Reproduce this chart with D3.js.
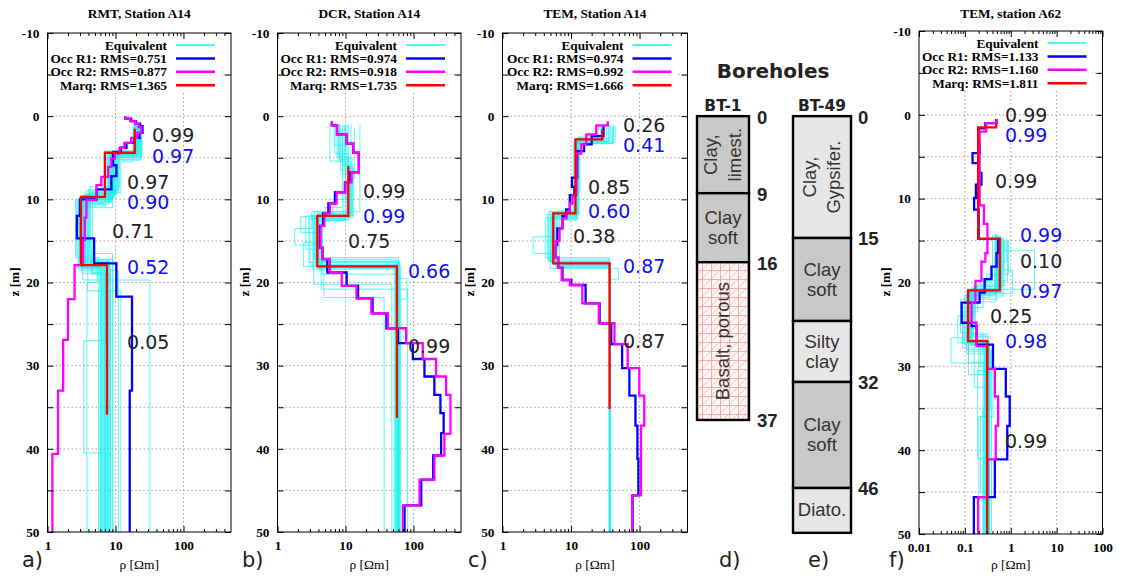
<!DOCTYPE html>
<html>
<head>
<meta charset="utf-8">
<script src="https://cdn.jsdelivr.net/npm/d3@7"></script>
<style>
  body { margin: 0; background: #fff; }
  svg { display: block; }
</style>
</head>
<body>
<script>
// ---- data: layered models, each layer is [top depth z (m), resistivity (ohm m)] ----

const legendNames = ['Equivalent', 'Occ R1', 'Occ R2', 'Marq'];

// a) RMT, station A14
const rmtRms = ['0.751', '0.877', '1.365'];
const rmtOccR1 = [[0,14],[0.3,17],[0.6,20],[0.9,23],[1.2,25],[2.0,22.5],[2.6,19],[3.2,14.5],[3.8,12],[4.3,9.2],[5.9,10.3],[7.2,8.7],[8.8,5.3],[10.0,3.0],[12.0,2.7],[14.7,4.85],[17.7,10.3],[21.7,17.5],[33,16.2]];
const rmtOccR2 = [[0,14],[0.3,16.5],[0.6,19.5],[0.9,22],[1.3,24],[2.0,21],[2.6,17],[3.2,13.5],[3.8,11.5],[4.5,9.8],[5.1,8.7],[6.1,7.8],[7.3,6.2],[8.3,5.25],[10.1,3.74],[12.2,3.53],[14.9,3.34],[17.9,2.5],[22,2.0],[26.9,1.7],[33,1.43],[40.6,1.18]];
const rmtMarq = [[1.5,19.2],[4.4,7.0],[9.7,3.1],[17.9,7.5]];
const rmtMarqEnd = 35.9;
const rmtEquiv = [
  [[1.2,20],[4.5,9.0],[9.5,3.2],[18,7.0]],
  [[1.0,22],[4.3,10.5],[9.0,3.6],[17.5,8.0]],
  [[1.3,19],[4.8,8.2],[10.2,2.8],[18.2,6.5]],
  [[1.0,24],[5.0,11.5],[8.5,4.2],[16.5,9.0]],
  [[1.1,21],[4.6,7.6],[10.0,3.0],[18,7.2],[27,3.4],[40.5,7.2]],
  [[1.2,20],[4.4,9.5],[9.8,3.3],[19.7,32]],
  [[1.0,23],[4.5,8.6],[10.0,2.6],[17,5.6]],
  [[1.4,18],[5.5,12],[9.2,4.6],[18.5,11]],
  [[1.0,19],[4.2,6.8],[10.5,3.6],[18,6.0]],
  [[1.2,22],[4.7,9.0],[11.0,2.9],[15,4.4],[19,8.5]],
  [[1.0,21],[4.5,10.2],[9.5,3.9],[21,12]],
  [[1.1,20],[4.9,8.0],[10.0,3.3],[17.8,5.4],[20,3.8]],
  [[1.3,23],[5.2,9.8],[9.6,3.4],[18.3,6.8]],
  [[1.0,20],[4.6,8.8],[10.3,3.1],[17.6,7.8]],
  [[1.0,21],[4.4,9.4],[9.9,3.4],[18.1,6.2]],
  [[1.2,24],[4.9,10.8],[9.3,3.8],[17.9,7.4]],
  [[1.1,19.5],[4.6,8.4],[10.4,2.9],[18.4,6.6]],
  [[1.0,22.5],[4.1,11],[8.8,4.0],[17.3,8.2]],
  [[1.3,20.5],[5.0,7.2],[10.8,3.2],[18.6,5.9]],
  [[1.0,18.5],[4.5,9.8],[9.4,3.7],[17.7,7.6]],
  [[1.2,21.5],[4.3,8.9],[10.1,2.7],[16.8,4.6],[18.8,7.1]],
  [[1.0,23.5],[5.3,10.9],[9.0,4.3],[18.0,8.4]],
  [[1.1,20],[4.7,7.9],[10.6,3.5],[18.2,6.9]],
  [[1.3,22],[4.8,9.3],[9.7,3.0],[17.4,7.7]],
  [[1.0,19],[4.4,8.3],[10.0,3.2],[18.9,6.3]],
  [[1.2,24.5],[4.6,10.0],[9.2,4.1],[17.2,9.2]]
];
const rmtNotes = [['0.99','k',34.4,3.1],['0.97','b',34.4,5.63],['0.97','k',14.8,8.76],['0.90','b',14.8,11.16],['0.71','k',8.9,14.65],['0.52','b',14.8,18.98],['0.05','k',14.8,28.0]];

// b) DCR, station A14
const dcrRms = ['0.974', '0.918', '1.735'];
const dcrOccR1 = [[0.6,6.3],[1.1,7.5],[2.2,10.4],[3.3,13],[4.4,15.7],[6.75,11.5],[7.95,9.8],[9.15,7.0],[10.5,5.6],[11.7,4.7],[13.2,4.2],[15.8,4.6],[17.2,5.4],[18.8,10.4],[20.4,15.3],[21.9,25],[23.7,40],[25.5,59],[27.3,98],[29.2,145],[31.3,203],[33.5,249],[35.7,278],[38.1,255],[40.8,195],[43.7,130],[46.8,74]];
const dcrOccR2 = [[0.6,6.3],[1.1,7.5],[2.2,10.4],[3.3,13],[4.4,15.7],[6.75,12.3],[7.95,10.0],[9.15,7.4],[10.5,5.9],[11.7,4.9],[13.2,4.3],[15.8,4.6],[17.2,5.9],[18.8,8.8],[20.4,14.5],[21.9,24],[23.7,42],[25.5,78],[27.3,137],[29.2,215],[31.3,302],[33.5,350],[38.2,285],[40.8,203],[43.7,123],[46.8,70]];
const dcrMarq = [[6,11],[12,3.85],[18.05,57]];
const dcrMarqEnd = 36.3;
const dcrEquiv = [
  [[1.0,8.0],[5.5,12],[12,3.6],[18,55]],
  [[1.0,16.3],[11.5,10],[12.5,4.0],[17.5,58]],
  [[1.2,7.0],[4.5,11],[11.5,3.2],[13.5,1.8],[15.5,4.5],[19,62]],
  [[1.0,9.5],[6.0,13],[12.2,4.2],[18.5,4.8],[21.8,37]],
  [[1.0,5.9],[5.4,10],[10,6.5],[12,3.0],[18,65]],
  [[1.5,9.0],[7.0,11.5],[11.8,3.8],[17,60]],
  [[1.0,10.5],[5.0,12.5],[12,2.6],[16,4.4],[20.8,82]],
  [[1.0,8.5],[6.5,11],[12.4,4.4],[18,59]],
  [[1.0,12],[8.0,10.5],[11.5,3.5],[17.2,56],[19.5,80],[22,57]],
  [[1.3,7.5],[5.0,10.8],[12.1,2.2],[14,3.9],[18.3,52]],
  [[1.0,11],[9.0,9.5],[12.6,4.6],[17.8,61]],
  [[1.1,6.8],[3.5,9],[11,5],[12.3,3.4],[20.2,48]],
  [[1.0,9],[5.8,11.8],[12.1,3.7],[17.9,57]],
  [[1.2,10],[6.3,12.8],[11.9,4.1],[18.2,60]],
  [[1.0,7.8],[4.8,10.2],[12.3,2.9],[17.6,63]],
  [[1.4,13.5],[7.5,10.8],[12,3.3],[18.4,54]],
  [[1.0,8.2],[5.2,11.2],[12.5,4.5],[15.2,2.4],[18.1,58]],
  [[1.1,9.8],[6.8,12.2],[11.7,3.9],[17.4,61]]
];
const dcrNotes = [['0.99','k',18.1,9.84],['0.99','b',18.1,12.85],['0.75','k',10.9,15.85],['0.66','b',83,19.46],['0.99','k',83,28.48]];

// c) TEM, station A14
const tem14Rms = ['0.974', '0.992', '1.666'];
const tem14OccR1 = [[1.2,29.7],[2.4,20],[3.4,15.5],[4.2,12.3],[7.4,10.3],[8.5,11.2],[9.5,9.6],[11.2,8.5],[12.0,7.5],[13.5,6.3],[15.5,6.0],[17.0,6.5],[18.2,7.5],[19.7,10.1],[20.3,16.3],[22.5,26.1],[24.9,38.6],[27.4,55.6],[30.3,71],[33.6,87],[37.2,93],[41.2,96],[45.6,79]];
const tem14OccR2 = [[0.6,34.4],[1.1,23.3],[2.2,16.7],[3.4,14.1],[4.5,12],[9.5,10.5],[10.5,9.6],[11.5,8.6],[12.3,7.5],[13.5,6.8],[15.0,6.0],[17.0,6.5],[18.2,7.3],[19.7,9.6],[20.3,14.6],[22.5,25.4],[24.9,43],[27.4,67],[30.3,99],[33.6,117],[37.2,105],[45.6,78]];
const tem14Marq = [[1.6,28.5],[2.8,11.6],[11.7,5.5],[17.7,36.5]];
const tem14MarqEnd = 35.2;
const tem14Equiv = [
  [[1.0,30],[2.8,12],[11.5,5.0],[17.5,36.5]],
  [[1.1,35],[3.0,11.5],[12.0,6.0],[17.8,37]],
  [[1.3,40],[3.3,13],[11.8,4.5],[17.2,36]],
  [[1.0,25],[2.6,12.5],[12.5,6.8],[18.0,36.5]],
  [[1.2,44],[3.2,11],[11.6,5.5],[14.5,2.8],[16.5,6.0],[18.2,36.5]],
  [[1.0,28],[2.9,13.5],[9.0,11],[12.0,5.2],[17.6,37]],
  [[1.4,33],[3.1,12.2],[12.2,4.2],[17.0,36]],
  [[1.0,38],[2.7,11.8],[11.4,6.4],[16.2,5.0],[18.3,49],[19.6,36.5]],
  [[1.2,27],[2.5,12.8],[11.9,5.8],[17.9,36.8]],
  [[1.0,42],[3.0,11.2],[12.3,4.9],[17.4,36.2]],
  [[1.1,31],[2.9,12.3],[11.7,5.3],[17.7,36.5]],
  [[1.0,36],[3.1,11.7],[12.1,5.7],[17.9,36.5]],
  [[1.3,29],[2.8,12.9],[11.5,4.7],[17.5,36.5]],
  [[1.2,41],[3.3,12.1],[12.4,6.2],[18.1,36.5]]
];
const tem14Notes = [['0.26','k',57.3,1.9],['0.41','b',57.3,4.3],['0.85','k',17.7,9.36],['0.60','b',17.7,12.24],['0.38','k',10.7,15.25],['0.87','b',57.3,18.86],['0.87','k',57.3,27.87]];

// f) TEM, station A62
const tem62Rms = ['1.133', '1.160', '1.811'];
const tem62OccR1 = [[0.5,0.48],[1.0,0.28],[1.6,0.2],[3.3,0.21],[4.56,0.147],[5.75,0.2],[6.94,0.23],[8.33,0.174],[9.92,0.159],[11.3,0.2],[14.8,0.53],[16.5,0.49],[18.1,0.38],[19.6,0.27],[21.2,0.21],[22.4,0.085],[24.8,0.14],[25.2,0.18],[27.4,0.41],[30.3,0.78],[33.6,0.95],[37.1,0.84],[41.1,0.45],[45.6,0.157]];
const tem62OccR2 = [[0.5,0.5],[1.0,0.29],[2.0,0.21],[10.8,0.26],[13.0,0.31],[16.5,0.28],[17.5,0.23],[19.8,0.17],[22.4,0.14],[24.8,0.18],[27.6,0.31],[30.3,0.45],[33.6,0.53],[37.1,0.47],[41.1,0.31],[45.6,0.195]];
const tem62Marq = [[1.0,0.48],[1.5,0.195],[14.8,0.577],[20.95,0.118],[27.0,0.306]];
const tem62MarqEnd = 50;
const tem62Equiv = [
  [[14.5,0.55],[21.0,0.12],[27.0,0.30]],
  [[14.8,0.65],[20.5,0.15],[26.5,0.28]],
  [[14.2,0.45],[21.5,0.10],[27.5,0.33]],
  [[15.0,0.75],[16.2,3.3],[20.8,0.2],[22.0,0.12],[27.0,0.35]],
  [[14.5,0.5],[22.0,0.08],[26.0,0.25]],
  [[14.6,0.6],[21.2,0.14],[26.6,0.05],[29.6,0.3]],
  [[14.3,0.4],[19.5,0.25],[23.0,0.11],[28.0,0.38]],
  [[15.0,0.9],[19.0,0.3],[21.0,0.13],[27.2,0.22],[30.0,0.30]],
  [[14.7,0.52],[21.0,0.17],[25.5,0.12],[29.5,0.41],[36,0.22],[45,0.3]],
  [[14.4,0.48],[20.8,0.11],[28.5,0.27],[36,0.2],[46,0.3]],
  [[14.9,0.7],[18.5,1.1],[21.3,0.16],[24,0.07],[27.2,0.29]],
  [[14.5,0.58],[20.9,0.13],[26.8,0.26]],
  [[14.6,0.62],[20.7,0.14],[26.9,0.31]],
  [[14.3,0.5],[21.4,0.11],[27.3,0.29]],
  [[14.8,0.8],[17.5,0.45],[21.1,0.15],[26.2,0.32]],
  [[14.5,0.57],[20.2,0.19],[23.5,0.09],[27.8,0.34]],
  [[14.7,0.68],[21.6,0.12],[27.1,0.27]],
  [[14.4,0.53],[19.2,0.35],[21.8,0.1],[26.4,0.31]],
  [[14.9,0.72],[20.4,0.16],[25,0.12],[28.2,0.36],[35,0.25]],
  [[14.6,0.6],[21.0,0.13],[27.4,0.2],[31,0.3]],
  [[14.2,0.47],[22.3,0.09],[26.9,0.3]],
  [[15.1,0.85],[19.8,0.22],[21.5,0.12],[27.0,0.33]],
  [[14.6,0.56],[21.1,0.13],[27.3,0.12],[31.0,0.31]],
  [[14.5,0.6],[20.9,0.14],[27.0,0.3],[30.5,0.19],[41,0.32]],
  [[14.7,0.63],[21.2,0.12],[26.8,0.16],[32.5,0.29]],
  [[14.4,0.51],[21.0,0.15],[27.4,0.34]]
];
const tem62Notes = [['0.99','k',0.75,0.86],['0.99','b',0.75,3.24],['0.99','k',0.454,8.73],['0.99','b',1.59,15.17],['0.10','k',1.59,18.27],['0.97','b',1.59,21.85],['0.25','k',0.353,24.83],['0.98','b',0.75,27.8],['0.99','k',0.75,39.74]];

// boreholes: layer [top, bottom (as drawn), label, kind, rotated]
const bt1Layers = [[0, 9.26, 'Clay,|limest.', 'dark', true], [9.26, 17.56, 'Clay|soft', 'dark', false], [17.56, 36.53, 'Basalt, porous', 'basalt', true]];
const bt1Depths = [[0, '0'], [9.26, '9'], [17.56, '16'], [36.53, '37']];
const bt49Layers = [[0, 14.65, 'Clay,|Gypsifer.', 'light', true], [14.65, 24.63, 'Clay|soft', 'dark', false], [24.63, 31.96, 'Silty|clay', 'light', false], [31.96, 44.71, 'Clay|soft', 'dark', false], [44.71, 50.1, 'Diato.', 'light', false]];
const bt49Depths = [[0, '0'], [14.65, '15'], [31.96, '32'], [44.71, '46']];

// ---- layout ----
const panels = [
  { title: 'RMT, Station A14', letter: 'a)', letterX: 22, left: 47.5, right: 231, top: 33, bottom: 532, xDomain: [1, 500],
    rms: rmtRms, occR1: rmtOccR1, occR2: rmtOccR2, marq: rmtMarq, marqEnd: rmtMarqEnd, equiv: rmtEquiv, notes: rmtNotes },
  { title: 'DCR, Station A14', letter: 'b)', letterX: 242, left: 277.5, right: 461, top: 33, bottom: 532, xDomain: [1, 500],
    rms: dcrRms, occR1: dcrOccR1, occR2: dcrOccR2, marq: dcrMarq, marqEnd: dcrMarqEnd, equiv: dcrEquiv, notes: dcrNotes },
  { title: 'TEM, Station A14', letter: 'c)', letterX: 468, left: 502.5, right: 687.5, top: 33, bottom: 532, xDomain: [1, 500],
    rms: tem14Rms, occR1: tem14OccR1, occR2: tem14OccR2, marq: tem14Marq, marqEnd: tem14MarqEnd, equiv: tem14Equiv, notes: tem14Notes },
  { title: 'TEM, station A62', letter: 'f)', letterX: 889, left: 919, right: 1102.5, top: 31, bottom: 534, xDomain: [0.01, 100],
    rms: tem62Rms, occR1: tem62OccR1, occR2: tem62OccR2, marq: tem62Marq, marqEnd: tem62MarqEnd, equiv: tem62Equiv, notes: tem62Notes }
];

const width = 1122;
const height = 581;
const serif = '"Liberation Serif", "Times New Roman", serif';
const sans = '"DejaVu Sans", sans-serif';
const arial = '"Liberation Sans", Arial, sans-serif';
const serifSize = '13.3px';
const colors = { equiv: '#1ff0f0', occR1: '#0000ff', occR2: '#ff00ff', marq: '#ff0000', k: '#222', b: '#1010ee' };

const svg = d3.select('body').append('svg')
  .attr('width', width)
  .attr('height', height);

const defs = svg.append('defs');

// hatch used for the basalt layer
const pat = defs.append('pattern')
  .attr('id', 'basalt')
  .attr('patternUnits', 'userSpaceOnUse')
  .attr('width', 9)
  .attr('height', 9);
pat.append('rect').attr('width', 9).attr('height', 9).attr('fill', '#fff6f6');
pat.append('path')
  .attr('d', 'M0,0.5H9M0.5,0V9')
  .attr('stroke', '#ef9a9a').attr('stroke-width', 0.8);
pat.append('path')
  .attr('d', 'M0,9L9,0M-4.5,4.5L4.5,-4.5M4.5,13.5L13.5,4.5')
  .attr('stroke', '#f2aaaa').attr('stroke-width', 0.7);

// turn a list of layers into the corner points of a step profile
function stepPoints(layers, end) {
  const pts = [];
  layers.forEach((d, i) => {
    const bottom = i < layers.length - 1 ? layers[i + 1][0] : end;
    pts.push([d[1], d[0]], [d[1], bottom]);
  });
  return pts;
}

function minorTicks(domain) {
  const out = [];
  const lo = Math.round(Math.log10(domain[0]));
  const hi = Math.ceil(Math.log10(domain[1]));
  for (let e = lo; e < hi; e++) {
    for (let m = 2; m <= 9; m++) {
      const v = m * Math.pow(10, e);
      if (v < domain[1]) out.push(v);
    }
  }
  return out;
}

function drawPanel(p, idx) {
  const x = d3.scaleLog().domain(p.xDomain).range([p.left, p.right]);
  const y = d3.scaleLinear().domain([-10, 50]).range([p.top, p.bottom]);
  const g = svg.append('g');
  const decades = d3.range(Math.round(Math.log10(p.xDomain[0])), Math.floor(Math.log10(p.xDomain[1])) + 1)
    .map(e => +Math.pow(10, e).toPrecision(6));

  defs.append('clipPath').attr('id', 'clip' + idx)
    .append('rect')
    .attr('x', p.left).attr('y', p.top)
    .attr('width', p.right - p.left).attr('height', p.bottom - p.top);

  // dotted grid
  g.append('g').selectAll('line')
    .data(d3.range(-5, 50, 5))
    .join('line')
    .attr('x1', p.left).attr('x2', p.right)
    .attr('y1', d => y(d)).attr('y2', d => y(d))
    .attr('stroke', '#999').attr('stroke-width', 0.9).attr('stroke-dasharray', '1.5,2.5');
  g.append('g').selectAll('line')
    .data(decades.slice(1).filter(d => d < p.xDomain[1]))
    .join('line')
    .attr('x1', d => x(d)).attr('x2', d => x(d))
    .attr('y1', p.top).attr('y2', p.bottom)
    .attr('stroke', '#999').attr('stroke-width', 0.9).attr('stroke-dasharray', '1.5,2.5');

  const line = d3.line().x(d => x(d[0])).y(d => y(d[1]));
  const plot = g.append('g').attr('clip-path', `url(#clip${idx})`);

  plot.selectAll('.equiv')
    .data(p.equiv)
    .join('path')
    .attr('class', 'equiv')
    .attr('d', d => line(stepPoints(d, 50)))
    .attr('fill', 'none')
    .attr('stroke', colors.equiv)
    .attr('stroke-opacity', 0.7)
    .attr('stroke-width', 1);

  const models = [
    { layers: p.occR1, end: 50, color: colors.occR1 },
    { layers: p.occR2, end: 50, color: colors.occR2 },
    { layers: p.marq, end: p.marqEnd, color: colors.marq }
  ];
  plot.selectAll('.model')
    .data(models)
    .join('path')
    .attr('class', 'model')
    .attr('d', d => line(stepPoints(d.layers, d.end)))
    .attr('fill', 'none')
    .attr('stroke', d => d.color)
    .attr('stroke-width', 2.3)
    .attr('stroke-linejoin', 'miter');

  // legend
  g.append('rect')
    .attr('x', p.left + 1.5).attr('y', p.top + 4)
    .attr('width', p.right - p.left - 12).attr('height', 55)
    .attr('fill', '#fff');
  const legendRows = [
    { text: legendNames[0], color: colors.equiv, w: 1.5 },
    { text: `${legendNames[1]}: RMS=${p.rms[0]}`, color: colors.occR1, w: 2.5 },
    { text: `${legendNames[2]}: RMS=${p.rms[1]}`, color: colors.occR2, w: 2.5 },
    { text: `${legendNames[3]}: RMS=${p.rms[2]}`, color: colors.marq, w: 2.5 }
  ];
  const rows = g.selectAll('.leg')
    .data(legendRows)
    .join('g')
    .attr('class', 'leg')
    .attr('transform', (d, i) => `translate(0,${p.top + 12 + i * 13.4})`);
  rows.append('text')
    .attr('x', p.right - 64)
    .attr('dy', '0.35em')
    .attr('text-anchor', 'end')
    .style('font-family', serif)
    .style('font-weight', 'bold')
    .style('font-size', serifSize)
    .text(d => d.text);
  rows.append('line')
    .attr('x1', p.right - 55).attr('x2', p.right - 16)
    .attr('stroke', d => d.color)
    .attr('stroke-width', d => d.w);

  // correlation numbers
  g.selectAll('.note')
    .data(p.notes)
    .join('text')
    .attr('class', 'note')
    .attr('x', d => x(d[2]))
    .attr('y', d => y(d[3]))
    .attr('fill', d => colors[d[1]])
    .style('font-family', sans)
    .style('font-size', '19px')
    .text(d => d[0]);

  // frame and axes
  g.append('rect')
    .attr('x', p.left).attr('y', p.top)
    .attr('width', p.right - p.left).attr('height', p.bottom - p.top)
    .attr('fill', 'none').attr('stroke', '#000').attr('stroke-width', 1);

  const yTicks = d3.range(-10, 51, 5);
  const axes = [
    g.append('g').attr('transform', `translate(${p.left},0)`)
      .call(d3.axisLeft(y).tickValues(yTicks).tickSize(-6).tickPadding(8)
        .tickFormat(d => d % 10 === 0 ? d : '')),
    g.append('g').attr('transform', `translate(${p.right},0)`)
      .call(d3.axisRight(y).tickValues(yTicks).tickSize(-6).tickFormat('')),
    g.append('g').attr('transform', `translate(0,${p.bottom})`)
      .call(d3.axisBottom(x).tickValues(decades).tickSize(-6).tickPadding(9).tickFormat(d => String(d))),
    g.append('g').attr('transform', `translate(0,${p.bottom})`)
      .call(d3.axisBottom(x).tickValues(minorTicks(p.xDomain)).tickSize(-3).tickFormat('')),
    g.append('g').attr('transform', `translate(0,${p.top})`)
      .call(d3.axisTop(x).tickValues(decades).tickSize(-6).tickFormat('')),
    g.append('g').attr('transform', `translate(0,${p.top})`)
      .call(d3.axisTop(x).tickValues(minorTicks(p.xDomain)).tickSize(-3).tickFormat(''))
  ];
  axes.forEach(a => {
    a.select('.domain').remove();
    a.selectAll('line').attr('stroke', '#000');
    a.selectAll('text')
      .attr('fill', '#000')
      .style('font-family', serif)
      .style('font-weight', 'bold')
      .style('font-size', serifSize);
  });

  // titles and labels
  g.append('text')
    .attr('x', (p.left + p.right) / 2).attr('y', 18)
    .attr('text-anchor', 'middle')
    .style('font-family', serif).style('font-weight', 'bold').style('font-size', serifSize)
    .text(p.title);
  g.append('text')
    .attr('transform', `translate(${p.left - 29},282) rotate(-90)`)
    .attr('text-anchor', 'middle')
    .style('font-family', serif).style('font-weight', 'bold').style('font-size', serifSize)
    .text('z [m]');
  g.append('text')
    .attr('x', (p.left + p.right) / 2).attr('y', 569)
    .attr('text-anchor', 'middle')
    .style('font-family', serif).style('font-size', '13.5px')
    .text('ρ [Ωm]');
  g.append('text')
    .attr('x', p.letterX).attr('y', 567)
    .attr('fill', '#222')
    .style('font-family', sans).style('font-size', '21px')
    .text(p.letter);
}

panels.forEach(drawPanel);

// ---- boreholes ----
const by = d3.scaleLinear().domain([-10, 50]).range([33, 532]);
const fills = { dark: '#c8c8c8', light: '#e6e6e6', basalt: 'url(#basalt)' };

function drawBorehole(layers, depths, name, x0, x1, labelX) {
  const g = svg.append('g');
  const cx = (x0 + x1) / 2;
  g.append('text')
    .attr('x', cx).attr('y', 111)
    .attr('text-anchor', 'middle')
    .attr('fill', '#222')
    .style('font-family', sans).style('font-weight', 'bold').style('font-size', '15.5px')
    .text(name);

  const cells = g.selectAll('.layer')
    .data(layers)
    .join('g')
    .attr('class', 'layer');
  cells.append('rect')
    .attr('x', x0).attr('width', x1 - x0)
    .attr('y', d => by(d[0]))
    .attr('height', d => by(d[1]) - by(d[0]))
    .attr('fill', d => fills[d[3]])
    .attr('stroke', '#000')
    .attr('stroke-width', 2.4);

  cells.each(function (d) {
    const cell = d3.select(this);
    const lines = d[2].split('|');
    const cy = (by(d[0]) + by(d[1])) / 2;
    if (d[4]) {
      lines.forEach((t, i) => {
        const off = (i - (lines.length - 1) / 2) * 24;
        cell.append('text')
          .attr('transform', `translate(${cx + off},${cy}) rotate(-90)`)
          .attr('text-anchor', 'middle')
          .attr('dy', '0.35em')
          .attr('fill', '#333')
          .style('font-family', arial).style('font-size', '18.5px')
          .text(t);
      });
    } else {
      lines.forEach((t, i) => {
        const off = lines.length === 1 ? 6 : (i === 0 ? -3.5 : 16.5);
        cell.append('text')
          .attr('x', cx).attr('y', cy + off)
          .attr('text-anchor', 'middle')
          .attr('fill', '#333')
          .style('font-family', arial).style('font-size', '18.5px')
          .text(t);
      });
    }
  });

  g.selectAll('.depth')
    .data(depths)
    .join('text')
    .attr('class', 'depth')
    .attr('x', labelX)
    .attr('y', d => by(d[0]))
    .attr('dy', '0.4em')
    .attr('fill', '#222')
    .style('font-family', arial).style('font-weight', 'bold').style('font-size', '18.5px')
    .text(d => d[1]);
}

svg.append('text')
  .attr('x', 773).attr('y', 78)
  .attr('text-anchor', 'middle')
  .attr('fill', '#222')
  .style('font-family', sans).style('font-weight', 'bold').style('font-size', '20px')
  .text('Boreholes');

drawBorehole(bt1Layers, bt1Depths, 'BT-1', 697, 749, 757);
drawBorehole(bt49Layers, bt49Depths, 'BT-49', 793, 851, 858);

svg.append('text').attr('x', 719).attr('y', 567).attr('fill', '#222')
  .style('font-family', sans).style('font-size', '21px').text('d)');
svg.append('text').attr('x', 808).attr('y', 567).attr('fill', '#222')
  .style('font-family', sans).style('font-size', '21px').text('e)');
</script>
</body>
</html>
